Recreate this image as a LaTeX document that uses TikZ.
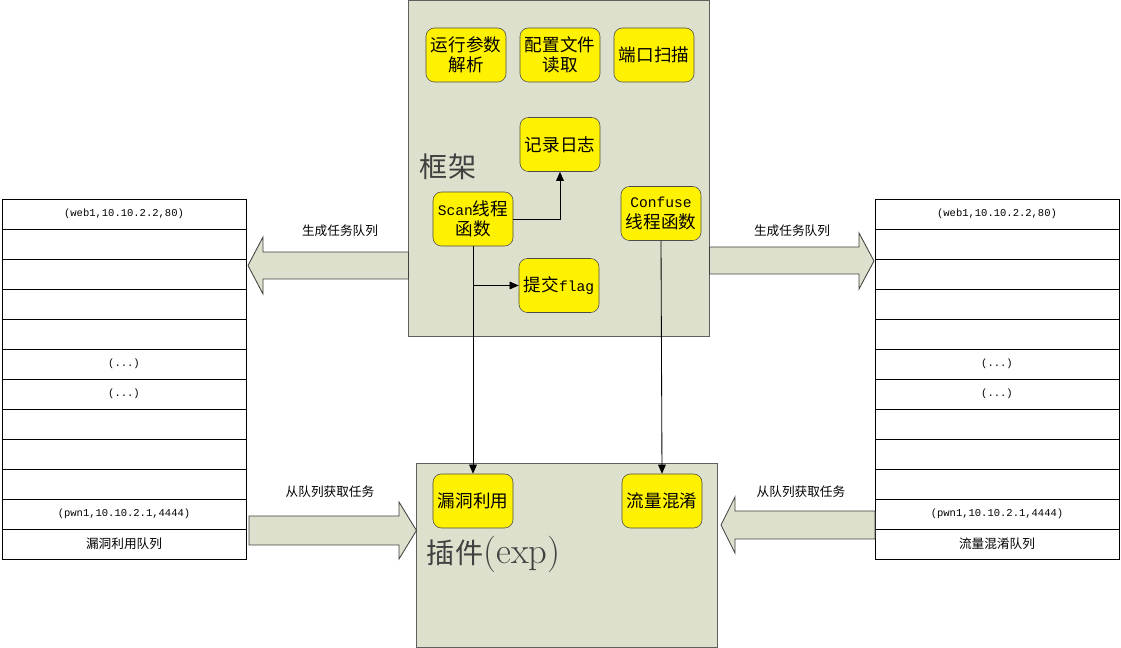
\documentclass[tikz,border=0pt]{standalone}
\usepackage{fontspec}
\newfontfamily\cjk{Noto Sans CJK SC}
\setmonofont{Liberation Mono}[Scale=0.83]
\usetikzlibrary{positioning, arrows.meta}
\definecolor{panelfill}{HTML}{DDE0CC}
\definecolor{paneledge}{HTML}{5F5F5F}
\newcommand{\etcrow}{\ttfamily(...)}
\tikzset{
    panel/.style={
        draw=paneledge, fill=panelfill,
        line width=0.7pt, minimum width=7.5cm
    },
    func/.style={
        draw=black!70, fill=yellow,
        rounded corners=6pt,
        minimum width=2cm,
        minimum height=1.35cm,
        align=center, inner sep=1pt,
        font=\fontsize{12.5}{14.5}\selectfont\cjk
    },
    cell/.style={
        draw, line width=0.6pt,
        minimum width=6.1cm, minimum height=0.75cm,
        inner sep=0pt,
        font=\fontsize{9}{10}\selectfont
    },
    bigarrow/.style={draw=black!75, fill=panelfill, line width=0.6pt},
    note/.style={font=\fontsize{9}{10}\selectfont\cjk},
    grouplabel/.style={anchor=west, text=black!75, font=\fontsize{20}{24}\selectfont},
    line/.style={-{Triangle[length=6.5pt,width=5.5pt]}, line width=0.6pt}
}

\begin{document}
\begin{tikzpicture}[x=0.025cm, y=-0.025cm]

    \useasboundingbox (0,0) rectangle (1121,648);

    % Framework panel
    \node[panel, minimum height=8.375cm] (frame) at (559,168.5) {};
    \node[grouplabel] (frametitle) at (415,167) {\cjk 框架};

    % Plugin panel
    \node[panel, minimum height=4.575cm] (plugin) at (567,555.5) {};
    \node[grouplabel] (plugintitle) at (422,554) {{\cjk 插件}{\fontsize{26}{28}\selectfont(exp)}};

    % Left queue
    \foreach \txt [count=\i] in {{\ttfamily(web1,10.10.2.2,80)},{},{},{},{},{\etcrow},{\etcrow},{},{},{},{\ttfamily(pwn1,10.10.2.1,4444)},{\cjk 漏洞利用队列}}
        \node[cell] (lq\i) at (124,{214+30*(\i-1)}) {\txt};

    % Right queue
    \foreach \txt [count=\i] in {{\ttfamily(web1,10.10.2.2,80)},{},{},{},{},{\etcrow},{\etcrow},{},{},{},{\ttfamily(pwn1,10.10.2.1,4444)},{\cjk 流量混淆队列}}
        \node[cell] (rq\i) at (997,{214+30*(\i-1)}) {\txt};

    % Block arrows
    \draw[bigarrow] (frame.west |- 0,252) -- (263,252) -- (263,237) -- (248,265.5)
        -- (263,294) -- (263,279) -- (frame.west |- 0,279) -- cycle;
    \draw[bigarrow] (frame.east |- 0,247) -- (859,247) -- (859,233) -- (874,261)
        -- (859,289) -- (859,274) -- (frame.east |- 0,274) -- cycle;
    \draw[bigarrow] (249,516) -- (399,516) -- (399,502) -- (plugin.west |- 0,530.5)
        -- (399,559) -- (399,545) -- (249,545) -- cycle;
    \draw[bigarrow] (875,511) -- (735,511) -- (735,497) -- (721,525)
        -- (735,553) -- (735,539) -- (875,539) -- cycle;

    \node[note] (genL) at (340,231) {生成任务队列};
    \node[note] (genR) at (792,231) {生成任务队列};
    \node[note] (takeL) at (330,492) {从队列获取任务};
    \node[note] (takeR) at (801,492) {从队列获取任务};

    % Framework functions
    \node[func] (args) at (466,55) {运行参数\\解析};
    \node[func] (config) at (560,55) {配置文件\\读取};
    \node[func] (portscan) at (654,55) {端口扫描};
    \node[func] (logger) at (560,144.5) {记录日志};
    \node[func] (scan) at (473,219) {{\ttfamily Scan}线程\\函数};
    \node[func] (confuse) at (661,213.5) {{\ttfamily Confuse}\\线程函数};
    \node[func] (flag) at (559,285.5) {提交{\ttfamily flag}};

    % Plugins
    \node[func] (exploit) at (473,501) {漏洞利用};
    \node[func] (obfus) at (662,501) {流量混淆};

    % Lines
    \draw[line] (scan.east) -| (logger.south);
    \draw[line] (scan.south) |- (flag.west);
    \draw[line] (scan.south) -- (exploit.north);
    \draw[line] (confuse.south) -- (obfus.north);

\end{tikzpicture}
\end{document}
